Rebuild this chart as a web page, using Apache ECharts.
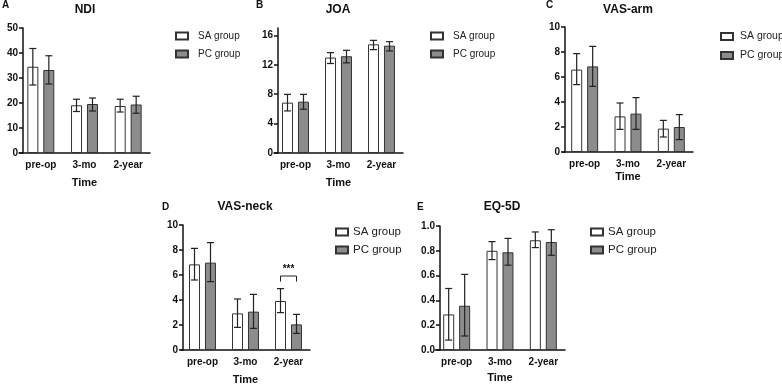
<!DOCTYPE html>
<html>
<head>
<meta charset="utf-8">
<script src="https://cdn.jsdelivr.net/npm/echarts@6/dist/echarts.min.js"></script>
<style>
html,body{margin:0;padding:0;background:#fff;}
#chart{width:782px;height:386px;}
</style>
</head>
<body>
<div id="chart"></div>
<script>
var categories = ['pre-op', '3-mo', '2-year'];
var groups = ['SA group', 'PC group'];

// mean, lower, upper for each time point
var ndiSA = [34.5, 19.1, 18.8];
var ndiSAlow = [27.2, 16.6, 16.4];
var ndiSAhigh = [41.8, 21.5, 21.5];
var ndiPC = [33.2, 19.6, 19.4];
var ndiPClow = [27.6, 16.8, 15.9];
var ndiPChigh = [38.9, 22.0, 22.7];

var joaSA = [6.85, 12.98, 14.78];
var joaSAlow = [5.72, 12.17, 14.06];
var joaSAhigh = [7.98, 13.65, 15.32];
var joaPC = [6.98, 13.16, 14.6];
var joaPClow = [5.95, 12.26, 13.88];
var joaPChigh = [7.98, 13.97, 15.14];

var armSA = [6.59, 2.85, 1.87];
var armSAlow = [5.39, 1.81, 1.2];
var armSAhigh = [7.87, 3.92, 2.53];
var armPC = [6.85, 3.07, 2.0];
var armPClow = [5.25, 1.81, 0.99];
var armPChigh = [8.45, 4.35, 2.99];

var neckSA = [6.85, 2.93, 3.92];
var neckSAlow = [5.6, 1.81, 2.99];
var neckSAhigh = [8.13, 4.08, 4.91];
var neckPC = [6.99, 3.07, 2.05];
var neckPClow = [5.47, 1.73, 1.33];
var neckPChigh = [8.59, 4.45, 2.85];

var eqSA = [0.287, 0.8, 0.885];
var eqSAlow = [0.08, 0.729, 0.826];
var eqSAhigh = [0.496, 0.874, 0.952];
var eqPC = [0.357, 0.788, 0.871];
var eqPClow = [0.113, 0.684, 0.764];
var eqPChigh = [0.61, 0.9, 0.97];

var yMax = [50, 17, 10, 10, 1];
var yInterval = [10, 4, 2, 2, 0.2];
var joaTicks = [0, 4, 8, 12, 16];

// significance bracket on VAS-neck 2-year
var sigCategory = 2;
var sigTop = 5.92;
var sigLeg = 5.47;
var sigText = '***';

var panelTitles = ['NDI', 'JOA', 'VAS-arm', 'VAS-neck', 'EQ-5D'];
var panelLetters = ['A', 'B', 'C', 'D', 'E'];

var panels = [
  [ndiSA, ndiSAlow, ndiSAhigh, ndiPC, ndiPClow, ndiPChigh],
  [joaSA, joaSAlow, joaSAhigh, joaPC, joaPClow, joaPChigh],
  [armSA, armSAlow, armSAhigh, armPC, armPClow, armPChigh],
  [neckSA, neckSAlow, neckSAhigh, neckPC, neckPClow, neckPChigh],
  [eqSA, eqSAlow, eqSAhigh, eqPC, eqPClow, eqPChigh]
];

// layout
var grids = [
  {left: 19, top: 28, width: 131, height: 125},
  {left: 274, top: 28, width: 129, height: 125},
  {left: 563, top: 27, width: 130, height: 125},
  {left: 181, top: 225, width: 129, height: 125},
  {left: 435, top: 226, width: 130, height: 124}
];
var yOffsets = [-4, -4, -2, -2, -5];
var titlePos = [[85, 4], [338, 4], [628, 4], [245, 201], [502, 201]];
var letterPos = [[2, 0], [256, 0], [546, 0], [162, 202], [417, 202]];
var legendPos = [[175, 31], [430, 31], [720, 31], [335, 226], [590, 226]];
var legendFont = [10, 10, 10.5, 11.5, 11.5];
var legendGap = [8, 8, 8, 6, 6];
var legendTextPad = [5, 5, 2, 0, 0];
var nameGaps = [24, 24, 19, 24, 22];

var FONT = 'Liberation Sans, Arial, sans-serif';
var BW = 11, HALF = 8;
var fills = ['#ffffff', '#8c8c8c'];

var option = {
  animation: false,
  textStyle: {fontFamily: FONT},
  title: [],
  legend: [],
  grid: [],
  xAxis: [],
  yAxis: [],
  series: []
};

panels.forEach(function (p, i) {
  option.grid.push(grids[i]);
  option.title.push({
    text: panelTitles[i], left: titlePos[i][0], top: titlePos[i][1], textAlign: 'center', padding: 0,
    textStyle: {fontSize: 12, fontWeight: 'bold', color: '#111', fontFamily: FONT}
  });
  option.title.push({
    text: panelLetters[i], left: letterPos[i][0], top: letterPos[i][1], padding: 0,
    textStyle: {fontSize: 10, fontWeight: 'bold', color: '#111', fontFamily: FONT}
  });
  option.legend.push({
    data: groups, left: legendPos[i][0], top: legendPos[i][1], orient: 'vertical', padding: 0,
    itemWidth: 12, itemHeight: 7, itemGap: legendGap[i], icon: 'rect',
    textStyle: {fontSize: legendFont[i], color: '#222', fontFamily: FONT, padding: [0, 0, 0, legendTextPad[i]]},
    selectedMode: false
  });
  option.xAxis.push({
    type: 'category', gridIndex: i, data: categories,
    name: 'Time', nameLocation: 'middle', nameGap: nameGaps[i],
    nameTextStyle: {fontSize: 11, fontWeight: 'bold', color: '#111'},
    axisLine: {lineStyle: {color: '#111', width: 1.5}},
    axisTick: {alignWithLabel: true, length: 4, lineStyle: {color: '#111', width: 1.5}},
    axisLabel: {fontSize: 10, fontWeight: 'bold', color: '#111', margin: 7}
  });
  var ya = {
    type: 'value', gridIndex: i, min: 0, max: yMax[i], interval: yInterval[i], offset: yOffsets[i],
    splitLine: {show: false},
    axisLine: {show: true, lineStyle: {color: '#111', width: 1.5}},
    axisTick: {show: true, length: 4, lineStyle: {color: '#111', width: 1.5}},
    axisLabel: {fontSize: 10, fontWeight: 'bold', color: '#111', margin: 5,
      formatter: i === 4 ? function (v) { return v.toFixed(1); } : '{value}'}
  };
  if (i === 1) {
    ya.axisTick.customValues = joaTicks;
    ya.axisLabel.customValues = joaTicks;
  }
  option.yAxis.push(ya);

  [0, 1].forEach(function (g) {
    var mean = p[g * 3], low = p[g * 3 + 1], high = p[g * 3 + 2];
    option.series.push({
      name: groups[g], type: 'bar', xAxisIndex: i, yAxisIndex: i,
      barWidth: BW, barGap: '45%', data: mean,
      itemStyle: {color: fills[g], borderColor: '#333', borderWidth: 1}
    });
    var errData = mean.map(function (m, k) { return [k, m, low[k], high[k]]; });
    var off = g === 0 ? -HALF : HALF;
    option.series.push({
      type: 'custom', xAxisIndex: i, yAxisIndex: i, z: 5, silent: true,
      data: errData,
      renderItem: function (params, api) {
        var x = api.coord([api.value(0), 0])[0] + off;
        var yl = api.coord([api.value(0), api.value(2)])[1];
        var yh = api.coord([api.value(0), api.value(3)])[1];
        var st = {stroke: '#222', lineWidth: 1.2};
        return {type: 'group', children: [
          {type: 'line', shape: {x1: x, y1: yl, x2: x, y2: yh}, style: st},
          {type: 'line', shape: {x1: x - 3.5, y1: yl, x2: x + 3.5, y2: yl}, style: st},
          {type: 'line', shape: {x1: x - 3.5, y1: yh, x2: x + 3.5, y2: yh}, style: st}
        ]};
      }
    });
  });
});

// significance bracket
option.series.push({
  type: 'custom', xAxisIndex: 3, yAxisIndex: 3, z: 6, silent: true,
  data: [[sigCategory, sigTop, sigLeg]],
  renderItem: function (params, api) {
    var cx = api.coord([api.value(0), 0])[0];
    var yt = api.coord([api.value(0), api.value(1)])[1];
    var yb = api.coord([api.value(0), api.value(2)])[1];
    return {type: 'group', children: [
      {type: 'polyline', shape: {points: [[cx - HALF, yb], [cx - HALF, yt], [cx + HALF, yt], [cx + HALF, yb]]}, style: {stroke: '#222', lineWidth: 1, fill: null}},
      {type: 'text', style: {x: cx, y: yt - 2, text: sigText, textAlign: 'center', textVerticalAlign: 'bottom', font: 'bold 10px ' + FONT, fill: '#111'}}
    ]};
  }
});

var chart = echarts.init(document.getElementById('chart'));
chart.setOption(option);
</script>
</body>
</html>
